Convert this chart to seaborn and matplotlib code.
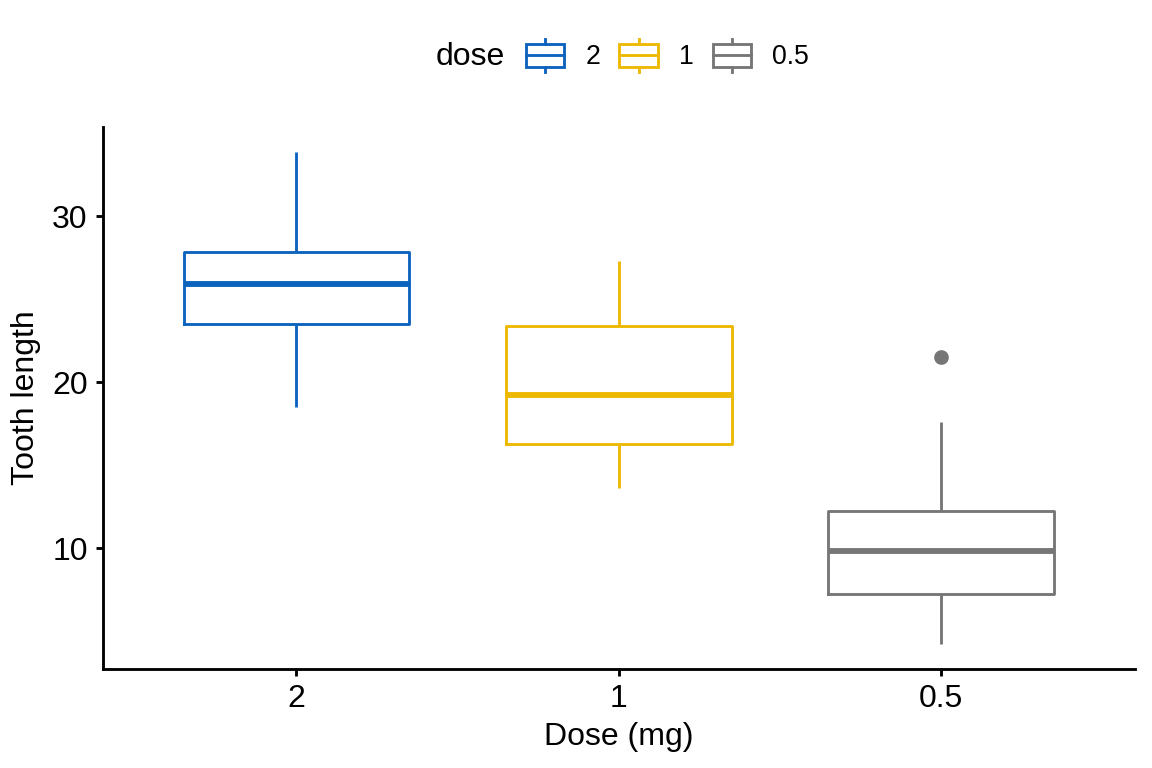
import numpy as np
import pandas as pd
import matplotlib
matplotlib.use("Agg")
import matplotlib.pyplot as plt
import seaborn as sns
from matplotlib.legend_handler import HandlerBase
from matplotlib.patches import Rectangle, Patch
from matplotlib.lines import Line2D

# ToothGrowth tooth length by dose (VC then OJ)
len_05 = [4.2, 11.5, 7.3, 5.8, 6.4, 10.0, 11.2, 11.2, 5.2, 7.0,
          15.2, 21.5, 17.6, 9.7, 14.5, 10.0, 8.2, 9.4, 16.5, 9.7]
len_1 = [16.5, 16.5, 15.2, 17.3, 22.5, 17.3, 13.6, 14.5, 18.8, 15.5,
         19.7, 23.3, 23.6, 26.4, 20.0, 25.2, 25.8, 21.2, 14.5, 27.3]
len_2 = [23.6, 18.5, 33.9, 25.5, 26.4, 32.5, 26.7, 21.5, 23.3, 29.5,
         25.5, 26.4, 22.4, 24.5, 24.8, 30.9, 26.4, 27.3, 29.4, 23.0]
dose_order = ["2", "1", "0.5"]
colors = ["#0B63BE", "#EDB800", "#767676"]

df = pd.DataFrame({
    "dose": ["0.5"] * len(len_05) + ["1"] * len(len_1) + ["2"] * len(len_2),
    "len": len_05 + len_1 + len_2,
})
pal = dict(zip(dose_order, colors))

plt.rcParams["font.family"] = ["Liberation Sans", "DejaVu Sans"]
fig = plt.figure(figsize=(6, 4), dpi=192)
ax = fig.add_axes([0.0894, 0.1289, 0.8956, 0.7057])

lw = 1.07
sns.boxplot(data=df, x="dose", y="len", hue="dose", order=dose_order, hue_order=dose_order,
            palette=pal, fill=False, width=0.7, linewidth=lw, showcaps=False,
            medianprops=dict(linewidth=2.2),
            flierprops=dict(marker="o", markersize=4.5),
            legend=False, ax=ax)

for line in ax.lines:
    if line.get_marker() == "o":
        line.set_markerfacecolor(line.get_markeredgecolor())

ax.set_xlim(-0.6, 2.6)
ax.set_ylim(2.715, 35.385)
ax.set_yticks([10, 20, 30])
ax.set_xlabel("Dose (mg)", fontsize=12, labelpad=3)
ax.set_ylabel("Tooth length", fontsize=12, labelpad=4)
ax.tick_params(labelsize=12, length=2.75, width=lw, color="black", labelcolor="black", pad=3)
for s in ["top", "right"]:
    ax.spines[s].set_visible(False)
for s in ["left", "bottom"]:
    ax.spines[s].set_linewidth(lw)
    ax.spines[s].set_color("black")


class BoxHandler(HandlerBase):
    def create_artists(self, legend, orig_handle, xdescent, ydescent, width, height, fontsize, trans):
        c = orig_handle.get_edgecolor()
        bh = height * 0.98
        y0 = (height - bh) / 2 - ydescent
        rect = Rectangle((-xdescent, y0), width, bh, facecolor="white", edgecolor=c,
                         linewidth=lw, transform=trans)
        mid = Line2D([-xdescent, -xdescent + width], [y0 + bh / 2] * 2, color=c, lw=lw, transform=trans)
        xc = -xdescent + width / 2
        w1 = Line2D([xc, xc], [y0 + bh, y0 + bh + height * 0.2], color=c, lw=lw, transform=trans)
        w2 = Line2D([xc, xc], [y0, y0 - height * 0.2], color=c, lw=lw, transform=trans)
        return [rect, mid, w1, w2]


handles = [Patch(edgecolor=c, facecolor="white") for c in colors]
fig.legend(handles, dose_order, handler_map={Patch: BoxHandler()}, loc="center",
           bbox_to_anchor=(0.5795, 0.926), ncol=3, frameon=False, fontsize=10,
           handlelength=1.43, handleheight=1.0, handletextpad=0.8, columnspacing=0.72)
fig.text(0.4385, 0.926, "dose", fontsize=12, ha="right", va="center")

fig.savefig("out.png", dpi=192)
